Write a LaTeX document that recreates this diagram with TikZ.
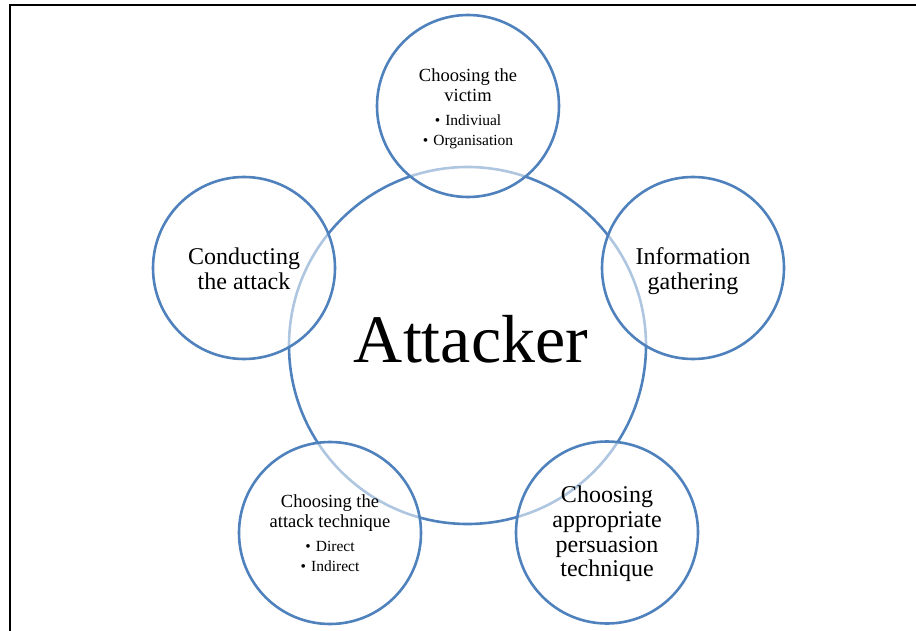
\documentclass[tikz,border=0pt]{standalone}
\usepackage{fontspec}
\setmainfont{Liberation Serif}
\definecolor{ringblue}{HTML}{4F81BD}
\newcommand{\headfont}{\fontsize{18.5}{20}\selectfont}
\newcommand{\bulfont}{\fontsize{15.5}{19.5}\selectfont}
\newcommand{\stepfont}{\fontsize{24}{24.8}\selectfont}
\newcommand{\itembul}{\textbullet\hspace{0.33em}}

\begin{document}
\begin{tikzpicture}[x=1pt,y=-1pt,
  ring/.style={circle, draw=ringblue, line width=2.6pt, inner sep=0pt,
    minimum size=182pt, fill=white, fill opacity=0.55, text opacity=1,
    align=center},
  hub/.style={circle, draw=ringblue, line width=2.6pt, inner sep=0pt,
    minimum size=357pt}]
\useasboundingbox (0,0) rectangle (916,631);
% page frame
\coordinate (frameBL) at (9.5,631);
\coordinate (frameTL) at (9.5,4.8);
\coordinate (frameTR) at (916,4.8);
\draw[line width=2pt] (frameBL) -- (frameTL) -- (frameTR);

% central circle
\node[hub] (hub) at (467.5,345.5) {};
\node[font=\fontsize{68}{70}\selectfont, inner sep=0pt] (attacker) at (471,339) {Attacker};

% surrounding stages
\node[ring, font=\headfont] (victim) at (468,106)
  {\rule{0pt}{18.5pt}Choosing the\\victim\\[4pt]{\bulfont\itembul Indiviual}\\{\bulfont\itembul Organisation}};
\node[ring, font=\stepfont] (info) at (693,268) {\rule{0pt}{22.5pt}Information\\gathering};
\node[ring, font=\stepfont] (persuasion) at (607,532.5)
  {\rule{0pt}{19.5pt}Choosing\\appropriate\\persuasion\\technique};
\node[ring, font=\headfont] (technique) at (330,533)
  {Choosing the\\attack technique\\[4pt]{\bulfont\itembul Direct}\\{\bulfont\itembul Indirect}};
\node[ring, font=\stepfont] (conduct) at (244,268) {\rule{0pt}{18.5pt}Conducting\\the attack};
\end{tikzpicture}
\end{document}
